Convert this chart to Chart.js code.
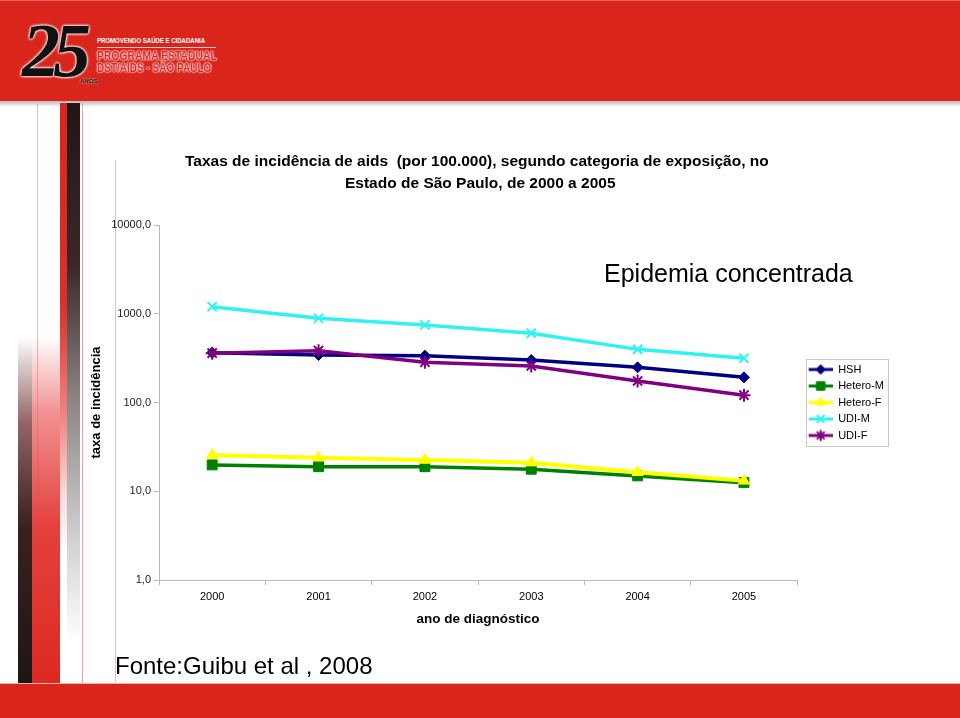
<!DOCTYPE html>
<html>
<head>
<meta charset="utf-8">
<title>Taxas de incidência de aids</title>
<script src="https://cdn.jsdelivr.net/npm/chart.js@4.4.0/dist/chart.umd.min.js"></script>
<style>
html, body { margin: 0; padding: 0; background: #fff; }
#page { position: relative; width: 960px; height: 718px; overflow: hidden; background: #fff;
        font-family: "Liberation Sans", Arial, sans-serif; }
.abs { position: absolute; }
#header { left: 0; top: 0; width: 960px; height: 101px; background: #d9251c; border-top: 1px solid #e8665f; box-sizing: border-box; }
#headerShadow { left: 0; top: 101px; width: 960px; height: 6px; background: linear-gradient(#b8b8b8, rgba(255,255,255,0)); }
#footer { left: 0; top: 683px; width: 960px; height: 35px; background: #d9251c; border-top: 1px solid #f0b0ac; box-sizing: border-box; }
#chartBox { left: 0; top: 0; width: 960px; height: 718px; }
.txt { position: absolute; white-space: pre; color: #000; }
</style>
</head>
<body>
<div id="page">
  <!-- decorative background -->
  <div class="abs" id="header"></div>
  <div class="abs" id="headerShadow"></div>
  <div class="abs" style="left:37px;top:103px;width:1px;height:580px;background:#f2b4b1;"></div>
  <div class="abs" style="left:82px;top:103px;width:1px;height:580px;background:#eaa4a1;"></div>
  <div class="abs" style="left:115px;top:160px;width:1px;height:523px;background:#f1bcb9;"></div>
  <div class="abs" style="left:18px;top:336px;width:14px;height:347px;background:linear-gradient(to bottom, rgba(60,30,30,0) 0%, rgba(110,50,50,0.75) 25%, #3a2020 55%, #1e1616 100%);"></div>
  <div class="abs" style="left:32px;top:336px;width:28px;height:347px;background:linear-gradient(to bottom, rgba(235,80,80,0) 0%, rgba(236,110,110,0.75) 22%, #e4403c 55%, #dc2a22 100%);"></div>
  <div class="abs" style="left:60px;top:103px;width:7px;height:580px;background:linear-gradient(to bottom, #d8261e 0%, #dc3028 35%, rgba(236,110,106,0.8) 55%, rgba(245,170,170,0.4) 68%, rgba(255,255,255,0) 78%);"></div>
  <div class="abs" style="left:67px;top:103px;width:13px;height:540px;background:linear-gradient(to bottom, #241616 0%, #3a2828 30%, #8e8484 55%, #cfcfcf 80%, rgba(255,255,255,0) 100%);"></div>
  <div class="abs" id="footer"></div>

  <!-- logo -->
  <div class="txt" style="left:22px;top:12px;font-family:'Liberation Serif',serif;font-style:italic;font-weight:bold;font-size:76px;line-height:76px;color:#111;letter-spacing:-7px;text-shadow:0 0 3px #fff,0 0 3px #fff,0 0 2px #fff;">25</div>
  <div class="txt" style="left:80px;top:78px;font-size:6px;line-height:6px;font-weight:bold;color:#111;text-shadow:0 0 2px #fff;">ANOS</div>
  <div class="txt" style="left:97px;top:37px;font-size:7px;line-height:7px;font-weight:bold;color:#fff;transform-origin:left top;transform:scaleX(0.86);">PROMOVENDO SAÚDE E CIDADANIA</div>
  <div class="abs" style="left:97px;top:47px;width:119px;height:1px;background:#f6c8c4;"></div>
  <div class="txt" style="left:97px;top:50px;font-size:12.5px;line-height:12px;font-weight:bold;color:#d9251c;transform-origin:left top;transform:scaleX(0.83);text-shadow:0 0 2px #fff,0 0 2px #fff,0 0 1px #fff;">PROGRAMA ESTADUAL</div>
  <div class="txt" style="left:97px;top:62px;font-size:12.5px;line-height:12px;font-weight:bold;color:#d9251c;transform-origin:left top;transform:scaleX(0.8);text-shadow:0 0 2px #fff,0 0 2px #fff,0 0 1px #fff;">DST/AIDS - SÃO PAULO</div>

  <!-- chart -->
  <div class="abs" id="chartBox"><canvas id="chart" width="960" height="718"></canvas></div>

  <!-- texts -->
  <div class="txt" style="left:185px;top:153px;font-size:15.5px;line-height:15.5px;font-weight:bold;">Taxas de incidência de aids  (por 100.000), segundo categoria de exposição, no</div>
  <div class="txt" style="left:345px;top:175px;font-size:15.5px;line-height:15.5px;font-weight:bold;">Estado de São Paulo, de 2000 a 2005</div>
  <div class="txt" style="left:604px;top:261px;font-size:25px;line-height:25px;">Epidemia concentrada</div>
  <div class="txt" style="left:115px;top:654px;font-size:24px;line-height:24px;">Fonte:Guibu et al , 2008</div>
</div>

<script>
// ---- data ----
const years = ['2000', '2001', '2002', '2003', '2004', '2005'];
const seriesNames = ['HSH', 'Hetero-M', 'Hetero-F', 'UDI-M', 'UDI-F'];
const hsh     = [364, 343, 337, 301, 249, 192];
const heteroM = [19.8, 18.9, 18.9, 17.7, 14.9, 12.5];
const heteroF = [25.6, 23.9, 22.5, 21.0, 16.4, 13.1];
const udiM    = [1200, 889, 747, 602, 397, 315];
const udiF    = [360, 384, 284, 258, 175, 121];
const yTickValues = [1, 10, 100, 1000, 10000];
const yTickLabels = ['1,0', '10,0', '100,0', '1000,0', '10000,0'];
const xTitle = 'ano de diagnóstico';
const yTitle = 'taxa de incidência';

// ---- styles ----
const FONT = "'Liberation Sans', Arial, Helvetica, sans-serif";
Chart.defaults.font.family = FONT;
Chart.defaults.color = '#000';

const styles = [
  { color: '#000080', point: 'rectRot',  radius: 5.5, pbw: 1,   lw: 3.5, order: 5 },
  { color: '#008000', point: 'rect',     radius: 7,   pbw: 1,   lw: 3.5, order: 4 },
  { color: '#ffff00', point: 'triangle', radius: 6.5, pbw: 1,   lw: 4,   order: 3 },
  { color: '#30f2f2', point: 'crossRot', radius: 6.5, pbw: 2,   lw: 3.5, order: 2 },
  { color: '#800080', point: 'star',     radius: 6.5, pbw: 2,   lw: 3.5, order: 1 }
];
const seriesData = [hsh, heteroM, heteroF, udiM, udiF];

// legend symbol: short line with the marker in the middle (Excel style)
function makeSymbol(st) {
  const c = document.createElement('canvas');
  c.width = 30; c.height = 14;
  const ctx = c.getContext('2d');
  ctx.strokeStyle = st.color;
  ctx.lineWidth = 3;
  ctx.beginPath(); ctx.moveTo(6, 7); ctx.lineTo(30, 7); ctx.stroke();
  ctx.fillStyle = st.color;
  ctx.strokeStyle = st.color;
  ctx.lineWidth = st.pbw;
  Chart.helpers.drawPoint(ctx, { pointStyle: st.point, radius: st.radius * 0.85, rotation: 0, borderWidth: st.pbw }, 18, 7);
  return c;
}
const legendSymbols = styles.map(makeSymbol);

const datasets = seriesNames.map((name, i) => ({
  label: name,
  data: seriesData[i],
  borderColor: styles[i].color,
  backgroundColor: styles[i].color,
  borderWidth: styles[i].lw,
  pointStyle: styles[i].point,
  pointRadius: styles[i].radius,
  pointBorderWidth: styles[i].pbw,
  pointBackgroundColor: styles[i].color,
  pointBorderColor: styles[i].color,
  tension: 0,
  fill: false,
  order: styles[i].order
}));

const legendBorder = {
  id: 'legendBorder',
  afterDraw(chart) {
    const lg = chart.legend;
    if (!lg || !lg.legendHitBoxes || !lg.legendHitBoxes.length) return;
    const hb = lg.legendHitBoxes;
    let right = 0;
    hb.forEach(h => { right = Math.max(right, h.left + h.width); });
    const x0 = hb[0].left + 3, y0 = hb[0].top - 5;
    const y1 = hb[hb.length - 1].top + hb[hb.length - 1].height + 5;
    const ctx = chart.ctx;
    ctx.save();
    ctx.strokeStyle = '#c8c8c8';
    ctx.lineWidth = 1;
    ctx.strokeRect(Math.round(x0) + 0.5, Math.round(y0) + 0.5, Math.round(right + 4 - x0), Math.round(y1 - y0));
    ctx.restore();
  }
};

new Chart(document.getElementById('chart'), {
  type: 'line',
  data: { labels: years, datasets: datasets },
  plugins: [legendBorder],
  options: {
    responsive: false,
    maintainAspectRatio: false,
    devicePixelRatio: 1,
    animation: false,
    events: [],
    layout: { padding: { left: 79, top: 225, right: 66, bottom: 80 } },
    plugins: {
      title: { display: false },
      tooltip: { enabled: false },
      legend: {
        display: true,
        position: 'right',
        align: 'center',
        fullSize: false,
        labels: {
          usePointStyle: true,
          pointStyleWidth: 30,
          boxHeight: 11,
          padding: 5.5,
          color: '#000',
          font: { size: 11, family: FONT },
          generateLabels: (chart) => chart.data.datasets.map((ds, i) => ({
            text: ds.label,
            pointStyle: legendSymbols[i],
            fillStyle: 'rgba(0,0,0,0)',
            strokeStyle: 'rgba(0,0,0,0)',
            lineWidth: 0,
            hidden: false,
            fontColor: '#000',
            datasetIndex: i
          }))
        }
      }
    },
    scales: {
      x: {
        type: 'category',
        offset: true,
        grid: { display: true, drawOnChartArea: false, drawTicks: true, tickLength: 5, offset: true, color: '#b8b8b8' },
        border: { display: true, color: '#b8b8b8', width: 1 },
        ticks: { color: '#000', font: { size: 11, family: FONT }, padding: 5, maxRotation: 0, autoSkip: false },
        title: { display: true, text: xTitle, color: '#000', font: { size: 13.5, weight: 'bold', family: FONT }, padding: { top: 4, bottom: 11 } },
        afterFit: (s) => { s.height = 58; }
      },
      y: {
        type: 'logarithmic',
        min: 1,
        max: 10000,
        afterBuildTicks: (s) => { s.ticks = yTickValues.map(v => ({ value: v })); },
        grid: { display: true, drawOnChartArea: false, drawTicks: true, tickLength: 5, color: '#b8b8b8' },
        border: { display: true, color: '#b8b8b8', width: 1 },
        ticks: {
          color: '#222', font: { size: 11, family: FONT }, padding: 3, autoSkip: false,
          callback: (v, idx) => yTickLabels[idx]
        },
        title: { display: true, text: yTitle, color: '#000', font: { size: 13, weight: 'bold', family: FONT }, padding: { top: 10, bottom: 4 } },
        afterFit: (s) => { s.width = 80; }
      }
    }
  }
});
</script>
</body>
</html>
